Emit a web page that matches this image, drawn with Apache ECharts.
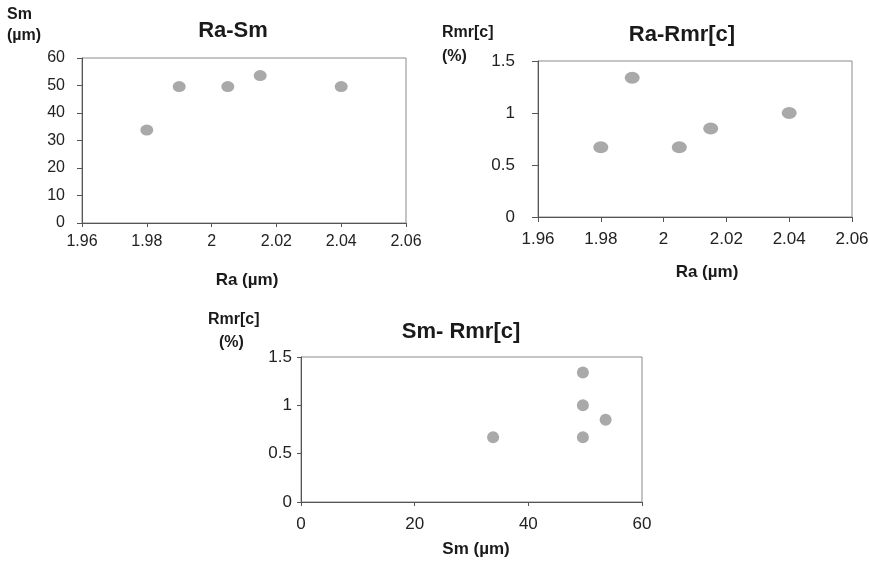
<!DOCTYPE html>
<html>
<head>
<meta charset="utf-8">
<script src="https://cdn.jsdelivr.net/npm/echarts@6/dist/echarts.min.js"></script>
<style>
html,body{margin:0;padding:0;background:#fff;}
#c{width:869px;height:564px;}
</style>
</head>
<body>
<div id="c"></div>
<script>
// Sample measurements (five samples)
var raValues = [1.98, 1.99, 2.005, 2.015, 2.04];
var smValues = [33.8, 49.6, 49.6, 53.6, 49.6];
var rmrValues = [0.67, 1.34, 0.67, 0.85, 1.0];

var chartTitles = ['Ra-Sm', 'Ra-Rmr[c]', 'Sm- Rmr[c]'];
var raTicks = [1.96, 2.06, 0.02];
var smTicks = [0, 60, 10];
var smTicksX = [0, 60, 20];
var rmrTicks = [0, 1.5, 0.5];

var FONT = '"Liberation Sans", Arial, sans-serif';
var dotColor = '#a9a9a9';

function pairs(xs, ys) {
  return xs.map(function (x, i) { return [x, ys[i]]; });
}

function valueAxis(ticks, gridIndex, decimals, fontSize, margin, tickLen) {
  return {
    type: 'value',
    gridIndex: gridIndex,
    min: ticks[0], max: ticks[1], interval: ticks[2],
    axisLine: { show: true, onZero: false, lineStyle: { color: '#555', width: 1 } },
    axisTick: { show: true, inside: false, length: tickLen, lineStyle: { color: '#555' } },
    splitLine: { show: false },
    axisLabel: {
      color: '#222', fontFamily: FONT, fontSize: fontSize,
      margin: margin,
      formatter: function (v) {
        return (+v.toFixed(decimals)).toString();
      }
    }
  };
}

var grids = [
  { left: 82, top: 58, width: 324, height: 165 },
  { left: 538, top: 61, width: 314, height: 156 },
  { left: 301, top: 357, width: 341, height: 145 }
];
grids.forEach(function (g) {
  g.show = true; g.borderColor = '#8a8a8a'; g.borderWidth = 1;
  g.containLabel = false; g.outerBoundsMode = 'none';
});

var texts = [
  // titles
  { x: 233, y: 31, t: chartTitles[0], size: 22 },
  { x: 682, y: 35, t: chartTitles[1], size: 22 },
  { x: 461, y: 332, t: chartTitles[2], size: 22 },
  // y axis names
  { x: 7, y: 15, t: 'Sm', size: 16, align: 'left' },
  { x: 7, y: 36, t: '(µm)', size: 16, align: 'left' },
  { x: 442, y: 33, t: 'Rmr[c]', size: 16, align: 'left' },
  { x: 442, y: 57, t: '(%)', size: 16, align: 'left' },
  { x: 208, y: 320, t: 'Rmr[c]', size: 16, align: 'left' },
  { x: 219, y: 343, t: '(%)', size: 16, align: 'left' },
  // x axis names
  { x: 247, y: 280, t: 'Ra (µm)', size: 17 },
  { x: 707, y: 272, t: 'Ra (µm)', size: 17 },
  { x: 476, y: 549, t: 'Sm (µm)', size: 17 }
];

var graphic = texts.map(function (d) {
  return {
    type: 'text', x: d.x, y: d.y,
    style: {
      text: d.t, fill: '#1a1a1a', fontFamily: FONT, fontWeight: 'bold',
      fontSize: d.size, textAlign: d.align || 'center', textVerticalAlign: 'middle'
    }
  };
});

function scatter(xi, data, size) {
  return {
    type: 'scatter', xAxisIndex: xi, yAxisIndex: xi, data: data,
    symbol: 'circle', symbolSize: size,
    itemStyle: { color: dotColor, opacity: 1 },
    silent: true
  };
}

var option = {
  animation: false,
  backgroundColor: '#fff',
  grid: grids,
  xAxis: [
    valueAxis(raTicks, 0, 2, 16, 11, 4),
    valueAxis(raTicks, 1, 2, 17, 14, 5),
    valueAxis(smTicksX, 2, 0, 17, 14, 4)
  ],
  yAxis: [
    valueAxis(smTicks, 0, 0, 16, 17, 5),
    valueAxis(rmrTicks, 1, 1, 17, 23, 6),
    valueAxis(rmrTicks, 2, 1, 17, 9, 4)
  ],
  series: [
    scatter(0, pairs(raValues, smValues), [13, 11]),
    scatter(1, pairs(raValues, rmrValues), [15, 12]),
    scatter(2, pairs(smValues, rmrValues), [12, 12])
  ],
  graphic: graphic
};

var chart = echarts.init(document.getElementById('c'), null, { renderer: 'canvas' });
chart.setOption(option);
</script>
</body>
</html>
